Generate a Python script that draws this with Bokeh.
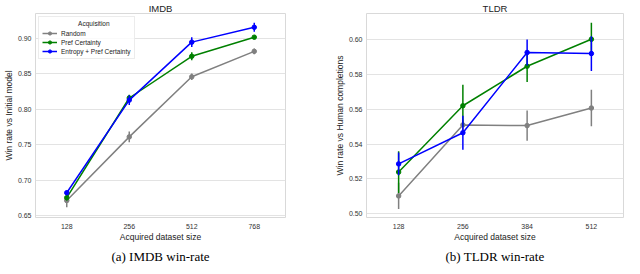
from bokeh.plotting import figure
from bokeh.layouts import row
from bokeh.models import (FactorRange, FixedTicker, Legend, LegendItem, CategoricalAxis,
                          ColumnDataSource, PrintfTickFormatter, Range1d)
from bokeh.embed import file_html
from bokeh.resources import INLINE

# ---- data ----
imdb_sizes = ["128", "256", "512", "768"]
imdb_random = [0.671, 0.761, 0.846, 0.882]
imdb_random_err = [0.0095, 0.0075, 0.0045, 0.004]
imdb_pref = [0.675, 0.816, 0.875, 0.902]
imdb_pref_err = [0.004, 0.0045, 0.0057, 0.002]
imdb_entropy = [0.682, 0.813, 0.895, 0.916]
imdb_entropy_err = [0.003, 0.0068, 0.0068, 0.0064]
imdb_yticks = [0.65, 0.70, 0.75, 0.80, 0.85, 0.90]

tldr_sizes = ["128", "256", "384", "512"]
tldr_random = [0.5102, 0.551, 0.5506, 0.5607]
tldr_random_err = [0.0075, 0.003, 0.0087, 0.0105]
tldr_pref = [0.5239, 0.562, 0.5847, 0.6002]
tldr_pref_err = [0.012, 0.012, 0.009, 0.0095]
tldr_entropy = [0.5286, 0.5465, 0.5926, 0.592]
tldr_entropy_err = [0.0065, 0.0098, 0.0075, 0.01]
tldr_yticks = [0.50, 0.52, 0.54, 0.56, 0.58, 0.60]

series_names = ["Random", "Pref Certainty", "Entropy + Pref Certainty"]
series_colors = ["#808080", "#008000", "#0000ff"]

FONT = "Liberation Sans"
SERIF = "Liberation Serif"
HEIGHT = 266


def make_panel(title, caption, sizes, data, errs, yticks, yrange, ylabel, width,
               border_left, border_right, legend):
    p = figure(width=width, height=HEIGHT, x_range=FactorRange(factors=sizes),
               y_range=yrange, output_backend="svg", toolbar_location=None,
               min_border_left=border_left, min_border_right=border_right,
               min_border_top=0, min_border_bottom=0)
    p.title.text = title
    p.title.align = "center"
    p.title.text_font = FONT
    p.title.text_font_style = "normal"
    p.title.text_font_size = "9.5px"
    p.title.text_color = "#222222"
    p.title.standoff = 0
    p.title.offset = 0
    p.outline_line_color = "#d9d9d9"
    p.xgrid.grid_line_color = None
    p.ygrid.grid_line_color = "#e3e3e3"
    p.ygrid.grid_line_width = 1
    p.yaxis.ticker = FixedTicker(ticks=yticks)
    p.yaxis.formatter = PrintfTickFormatter(format="%.2f")
    for ax in (p.xaxis[0], p.yaxis[0]):
        ax.axis_line_color = None
        ax.major_tick_line_color = None
        ax.minor_tick_line_color = None
        ax.major_tick_in = 0
        ax.major_tick_out = 0
        ax.major_label_text_font = FONT
        ax.major_label_text_font_size = "7px"
        ax.major_label_text_color = "#333333"
        ax.axis_label_text_font = FONT
        ax.axis_label_text_font_size = "8.5px"
        ax.axis_label_text_font_style = "normal"
        ax.axis_label_text_color = "#222222"
    p.xaxis.major_label_standoff = 6
    p.xaxis.axis_label_standoff = 0
    p.yaxis.major_label_standoff = 4
    p.yaxis.axis_label_standoff = 1
    p.xaxis.axis_label = "Acquired dataset size"
    p.yaxis.axis_label = ylabel

    items = []
    for name, color, ys, es in zip(series_names, series_colors, data, errs):
        src = ColumnDataSource(dict(x=sizes, y=ys,
                                    lo=[y - e for y, e in zip(ys, es)],
                                    hi=[y + e for y, e in zip(ys, es)]))
        p.segment(x0="x", y0="lo", x1="x", y1="hi", source=src,
                  line_color=color, line_width=1.5)
        ln = p.line(x="x", y="y", source=src, line_color=color, line_width=1.5)
        sc = p.scatter(x="x", y="y", source=src, size=4.5, fill_color=color,
                       line_color=color)
        items.append(LegendItem(label=name, renderers=[ln, sc]))

    if legend:
        lg = Legend(items=items, location="top_left",
                    title="\u00a0" * 20 + "Acquisition",
                    title_text_font=FONT, title_text_font_size="6.5px",
                    title_text_font_style="normal", title_text_color="#222222",
                    label_text_font=FONT, label_text_font_size="6.5px",
                    label_text_color="#222222", glyph_width=15, glyph_height=8,
                    label_height=8, label_standoff=4, spacing=1, padding=3,
                    margin=3, border_line_color="#d9d9d9", title_standoff=2,
                    background_fill_alpha=0.8)
        p.add_layout(lg)

    # caption: an extra, tick-less axis below the x axis carrying the sub-figure label
    cap = CategoricalAxis(ticker=FixedTicker(ticks=[]), axis_label=caption,
                          axis_line_color=None, major_tick_line_color=None,
                          major_tick_in=0, major_tick_out=0,
                          major_label_text_font_size="0px",
                          axis_label_text_font=SERIF, axis_label_text_font_size="13px",
                          axis_label_text_font_style="normal",
                          axis_label_text_color="#000000", axis_label_standoff=4)
    p.add_layout(cap, "below")
    return p


p1 = make_panel("IMDB", "(a) IMDB win-rate", imdb_sizes,
                [imdb_random, imdb_pref, imdb_entropy],
                [imdb_random_err, imdb_pref_err, imdb_entropy_err],
                imdb_yticks, Range1d(0.647, 0.9355), "Win rate vs Initial model",
                312, 21, 27, True)
p2 = make_panel("TLDR", "(b) TLDR win-rate", tldr_sizes,
                [tldr_random, tldr_pref, tldr_entropy],
                [tldr_random_err, tldr_pref_err, tldr_entropy_err],
                tldr_yticks, Range1d(0.4978, 0.615), "Win rate vs Human completions",
                312, 54, 1, False)

layout = row(p1, p2)
open("out.html", "w").write(file_html(layout, INLINE))
